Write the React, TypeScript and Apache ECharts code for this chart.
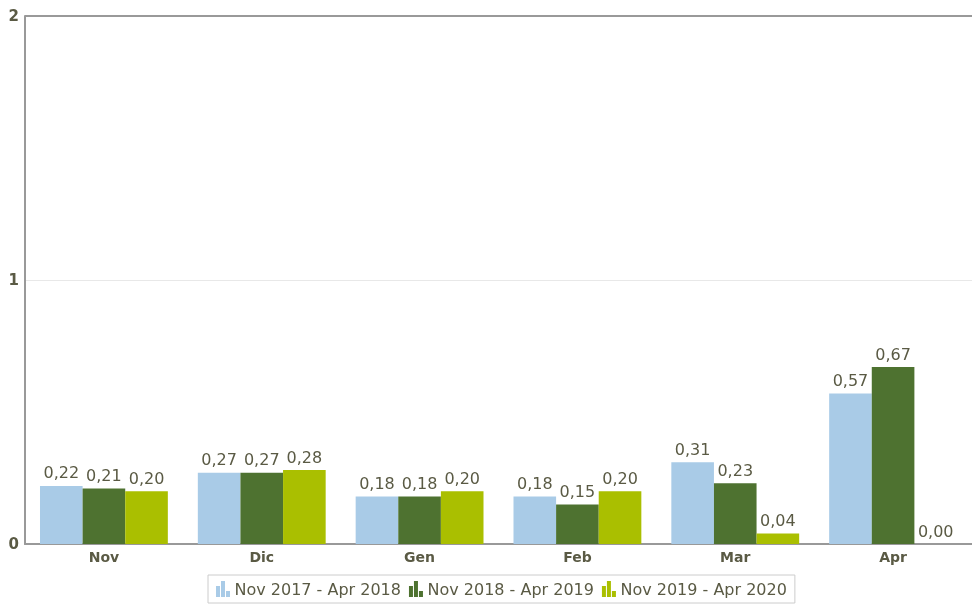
import React, { useEffect, useRef } from "react";
import * as echarts from "echarts";

const categories = ["Nov", "Dic", "Gen", "Feb", "Mar", "Apr"];
const seriesNames = ["Nov 2017 - Apr 2018", "Nov 2018 - Apr 2019", "Nov 2019 - Apr 2020"];
const s2018 = [0.22, 0.27, 0.18, 0.18, 0.31, 0.57];
const s2019 = [0.21, 0.27, 0.18, 0.15, 0.23, 0.67];
const s2020 = [0.2, 0.28, 0.2, 0.2, 0.04, 0.0];
const colors = ["#a9cbe7", "#4e7230", "#aabf00"];
const TEXT = "#5a5a44";
const FONT = "DejaVu Sans";
const ICON = "path://M0,5h4v11h-4z M5,0h4v16h-4z M10,10h4v6h-4z";

export default function App() {
  const ref = useRef<HTMLDivElement>(null);
  useEffect(() => {
    const chart = echarts.init(ref.current!, undefined, { renderer: "svg" });
    const data = [s2018, s2019, s2020];
    chart.setOption({
      animation: false,
      textStyle: { fontFamily: FONT },
      grid: { left: 25, right: 0, top: 16, bottom: 64, containLabel: false },
      legend: {
        left: 208,
        top: 575,
        padding: [6, 8],
        itemGap: 8,
        itemWidth: 15,
        itemHeight: 16,
        borderColor: "#cccccc",
        borderWidth: 1,
        textStyle: { color: TEXT, fontSize: 16, fontFamily: FONT, padding: [0, 0, 0, -1] },
        data: seriesNames.map((n) => ({ name: n, icon: ICON })),
      },
      xAxis: {
        type: "category",
        data: categories,
        axisTick: { show: false },
        axisLine: { lineStyle: { color: "#999999", width: 2 } },
        axisLabel: { color: TEXT, fontWeight: "bold", fontSize: 14, fontFamily: FONT, margin: 6 },
      },
      yAxis: {
        type: "value",
        min: 0,
        max: 2,
        interval: 1,
        axisLine: { show: true, lineStyle: { color: "#999999", width: 2 } },
        axisTick: { show: false },
        axisLabel: { color: TEXT, fontWeight: "bold", fontSize: 15, fontFamily: FONT, margin: 6 },
        splitLine: { show: true, lineStyle: { color: ["#999999", "#e8e8e8", "#999999"], width: 1 } },
      },
      series: seriesNames.map((name, i) => ({
        name,
        type: "bar",
        data: data[i],
        barGap: "0%",
        barCategoryGap: "19%",
        itemStyle: { color: colors[i] },
        label: {
          show: true,
          position: "top",
          distance: 5,
          color: TEXT,
          fontSize: 16,
          fontFamily: FONT,
          formatter: (p: any) => Number(p.value).toFixed(2).replace(".", ","),
        },
      })),
      graphic: [
        {
          type: "line",
          shape: { x1: 25, y1: 16, x2: 972, y2: 16 },
          style: { stroke: "#999999", lineWidth: 2 },
        },
      ],
    });
    return () => chart.dispose();
  }, []);
  return <div ref={ref} style={{ position: "fixed", left: 0, top: 0, width: 972, height: 608 }} />;
}
